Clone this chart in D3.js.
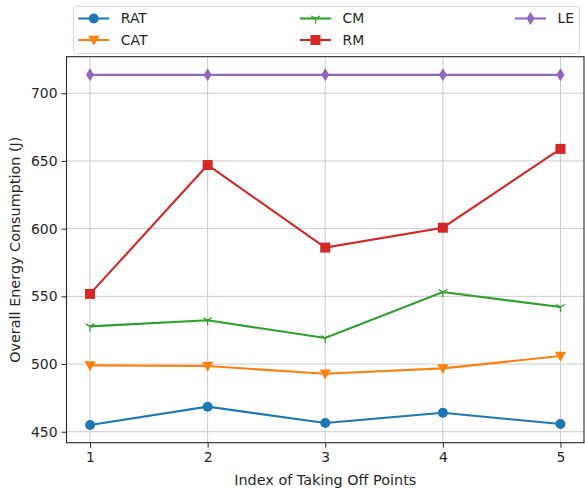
<!DOCTYPE html>
<html><head><meta charset="utf-8">
<script src="https://cdn.jsdelivr.net/npm/d3@7"></script>
<style>body{margin:0;background:#fff}text{font-family:"DejaVu Sans",sans-serif;fill:#262626}</style>
</head><body><svg id="c" width="585" height="489"></svg>
<script>
const xValues = [1, 2, 3, 4, 5];
const xTicks = [1, 2, 3, 4, 5];
const yTicks = [450, 500, 550, 600, 650, 700];
const seriesNames = ["RAT", "CAT", "CM", "RM", "LE"];
const ratValues = [455.0, 468.5, 456.4, 464.0, 455.7];
const catValues = [499.0, 498.5, 492.8, 496.8, 505.9];
const cmValues = [527.8, 532.3, 519.2, 553.2, 542.1];
const rmValues = [551.8, 647.0, 586.0, 600.7, 658.9];
const leValues = [713.6, 713.6, 713.6, 713.6, 713.6];
const colors = ["#1f77b4", "#ff7f0e", "#2ca02c", "#d62728", "#9467bd"];
const markers = ["circle", "tridown", "tri1", "square", "thindiamond"];
const allValues = [ratValues, catValues, cmValues, rmValues, leValues];

const svg = d3.select("#c");
const L = 66.5, R = 584, T = 56.7, B = 442.7;
const x = d3.scaleLinear().domain([0.8, 5.2]).range([L, R]);
const y = d3.scaleLinear().domain([441.9, 727]).range([B, T]);

// grid
const g = svg.append("g");
g.selectAll(".vg").data(xTicks).enter().append("line")
  .attr("x1", d => x(d)).attr("x2", d => x(d)).attr("y1", T).attr("y2", B)
  .attr("stroke", "#cccccc").attr("stroke-width", 1);
g.selectAll(".hg").data(yTicks).enter().append("line")
  .attr("y1", d => y(d)).attr("y2", d => y(d)).attr("x1", L).attr("x2", R)
  .attr("stroke", "#cccccc").attr("stroke-width", 1);

function marker(sel, type, color) {
  if (type === "circle") {
    sel.append("circle").attr("r", 5).attr("fill", color);
  } else if (type === "square") {
    sel.append("rect").attr("x", -5).attr("y", -5).attr("width", 10).attr("height", 10).attr("fill", color);
  } else if (type === "tridown") {
    sel.append("path").attr("d", "M-5.6,-4.2L5.6,-4.2L0,5.6Z").attr("fill", color);
  } else if (type === "tri1") {
    sel.append("path").attr("d", "M0,0L0,5M0,0L-4.3,-2.5M0,0L4.3,-2.5").attr("stroke", color).attr("stroke-width", 1.3).attr("fill", "none");
  } else if (type === "thindiamond") {
    sel.append("path").attr("d", "M0,-6.5L4,0L0,6.5L-4,0Z").attr("fill", color);
  }
}

const line = d3.line().x((d, i) => x(xValues[i])).y(d => y(d));
allValues.forEach((vals, si) => {
  const sg = svg.append("g");
  sg.append("path").attr("d", line(vals)).attr("fill", "none")
    .attr("stroke", colors[si]).attr("stroke-width", 2.1);
  vals.forEach((v, i) => {
    const m = sg.append("g").attr("transform", `translate(${x(xValues[i])},${y(v)})`);
    marker(m, markers[si], colors[si]);
  });
});

// axes
const xAxis = svg.append("g").attr("transform", `translate(0,${B})`)
  .call(d3.axisBottom(x).tickValues(xTicks).tickFormat(d3.format("d")).tickSize(5).tickPadding(4));
const yAxis = svg.append("g").attr("transform", `translate(${L},0)`)
  .call(d3.axisLeft(y).tickValues(yTicks).tickSize(5).tickPadding(4));
[xAxis, yAxis].forEach(a => {
  a.select(".domain").remove();
  a.selectAll("line").attr("stroke", "#262626").attr("stroke-width", 1);
  a.selectAll("text").attr("font-size", "13.9px").attr("font-family", "DejaVu Sans").attr("fill", "#262626");
});
svg.append("rect").attr("x", L).attr("y", T).attr("width", R - L).attr("height", B - T)
  .attr("fill", "none").attr("stroke", "#262626").attr("stroke-width", 1.1);

svg.append("text").attr("x", (L + R) / 2).attr("y", 485).attr("text-anchor", "middle")
  .attr("font-size", "14.4px").text("Index of Taking Off Points");
svg.append("text").attr("transform", `translate(19.5,${(T + B) / 2}) rotate(-90)`)
  .attr("text-anchor", "middle").attr("font-size", "14.4px").text("Overall Energy Consumption (J)");

// legend
const lg = svg.append("g");
lg.append("rect").attr("x", 73.5).attr("y", 6.5).attr("width", 506).attr("height", 47).attr("rx", 3)
  .attr("fill", "#fff").attr("fill-opacity", 0.8).attr("stroke", "#d9d9d9").attr("stroke-width", 1);
const colX = [78.3, 300, 515];
const rowY = [18.5, 40];
seriesNames.forEach((name, si) => {
  const col = Math.floor(si / 2), row = si % 2;
  const x0 = colX[col], yy = rowY[row];
  const it = lg.append("g");
  it.append("line").attr("x1", x0).attr("x2", x0 + 31).attr("y1", yy).attr("y2", yy)
    .attr("stroke", colors[si]).attr("stroke-width", 2.1);
  const m = it.append("g").attr("transform", `translate(${x0 + 15.5},${yy})`);
  marker(m, markers[si], colors[si]);
  it.append("text").attr("x", x0 + 42.5).attr("y", yy).attr("dy", "0.35em")
    .attr("font-size", "13.9px").text(name);
});
</script></body></html>
